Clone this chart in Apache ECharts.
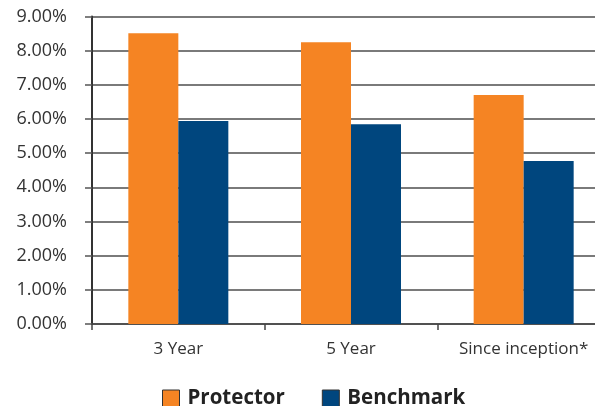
<!DOCTYPE html>
<html>
<head>
<meta charset="utf-8">
<script src="https://cdn.jsdelivr.net/npm/echarts@6/dist/echarts.min.js"></script>
<style>
  html, body { margin: 0; padding: 0; background: #fff; overflow: hidden; }
  /* the plot area runs on past the right edge of the visible frame */
  #frame { width: 595px; height: 406px; overflow: hidden; }
  #chart { width: 612px; height: 406px; }
</style>
</head>
<body>
<div id="frame"><div id="chart"></div></div>
<script>
// Annualised returns by period
const categories = ['3 Year', '5 Year', 'Since inception*'];
const protector = [8.51, 8.25, 6.70];
const benchmark = [5.94, 5.85, 4.77];
const yTicks = { min: 0, max: 9, interval: 1 };

const chart = echarts.init(document.getElementById('chart'), null, { renderer: 'canvas' });

chart.setOption({
  animation: false,
  backgroundColor: '#ffffff',
  grid: { left: 92, top: 16.5, width: 518, height: 307.5, containLabel: false },
  legend: {
    left: 157,
    top: 383,
    itemWidth: 17,
    itemHeight: 17,
    itemGap: 37,
    icon: 'rect',
    textStyle: { fontFamily: 'Open Sans', fontWeight: 'bold', fontSize: 20.5, color: '#222', padding: [0, 0, 0, 3] },
    data: [
      { name: 'Protector', itemStyle: { borderColor: '#333', borderWidth: 1 } },
      { name: 'Benchmark', itemStyle: { borderColor: '#333', borderWidth: 1 } }
    ]
  },
  xAxis: {
    type: 'category',
    data: categories,
    axisLine: { show: true, lineStyle: { color: '#444', width: 1.5 } },
    axisTick: { show: true, length: 6, alignWithLabel: false, lineStyle: { color: '#444', width: 1.5 } },
    axisLabel: { interval: 0, margin: 17, fontFamily: 'Open Sans', fontSize: 17, color: '#333' },
    splitLine: { show: false }
  },
  yAxis: {
    type: 'value',
    min: yTicks.min,
    max: yTicks.max,
    interval: yTicks.interval,
    axisLine: { show: true, lineStyle: { color: '#333', width: 2 } },
    axisTick: { show: true, length: 7, lineStyle: { color: '#555', width: 1.5 } },
    axisLabel: {
      margin: 25,
      fontFamily: 'Open Sans',
      fontSize: 18,
      color: '#333',
      verticalAlign: 'middle',
      formatter: v => v.toFixed(2) + '%'
    },
    splitLine: { show: true, lineStyle: { color: '#7a7a7a', width: 2 } }
  },
  series: [
    {
      name: 'Protector',
      type: 'bar',
      data: protector,
      barWidth: 50,
      barGap: '0%',
      itemStyle: { color: '#F58423' }
    },
    {
      name: 'Benchmark',
      type: 'bar',
      data: benchmark,
      barWidth: 50,
      barGap: '0%',
      itemStyle: { color: '#00467E' }
    }
  ]
});
</script>
</body>
</html>
